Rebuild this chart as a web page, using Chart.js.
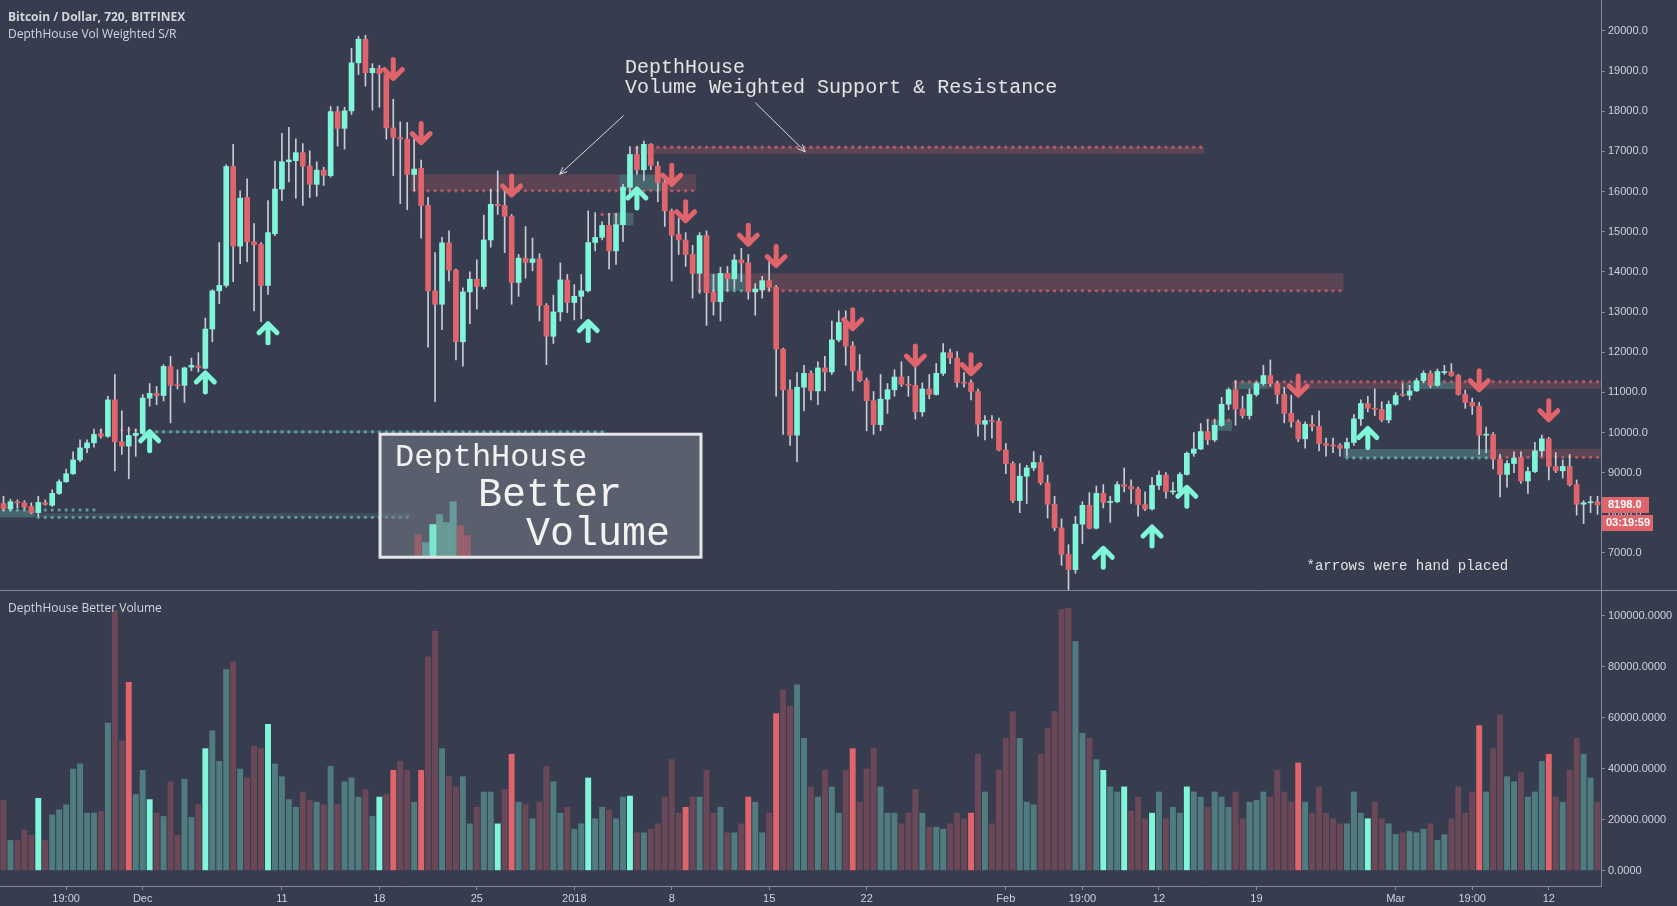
<!DOCTYPE html>
<html lang="en">
<head>
    <meta charset="UTF-8">
    <title>Bitcoin / Dollar, 720, BITFINEX</title>
    <script src="https://cdn.jsdelivr.net/npm/chart.js"></script>
    <style>
        html, body { margin: 0; padding: 0; background: #373d4f; overflow: hidden; }
        #wrap { position: relative; width: 1677px; height: 906px; }
        canvas { position: absolute; left: 0; }
        #priceChart { top: 0; }
        #volChart { top: 590px; }
        .legend {
            position: absolute; left: 8px;
            color: #d4d6dc; font-family: 'Open Sans', sans-serif;
            font-size: 12px; line-height: 17px; white-space: nowrap;
        }
    </style>
</head>
<body>
<div id="wrap">
    <canvas id="priceChart" width="1677" height="590"></canvas>
    <canvas id="volChart" width="1677" height="316"></canvas>
    <div class="legend" style="top:8px"><b>Bitcoin / Dollar, 720, BITFINEX</b><br>DepthHouse Vol Weighted S/R</div>
    <div class="legend" style="top:599px">DepthHouse Better Volume</div>
</div>

<script>
// 12h candles, Bitfinex BTC/USD, starting 21 Nov 2017
const opens = [
    8231, 8095, 8276, 8249, 8159, 8004, 8249, 8186, 8484, 8774,
    8973, 9317, 9616, 9743, 9970, 9906, 10811, 9770, 9662, 9924,
    9979, 10857, 10974, 10920, 11645, 11192, 11174, 11627, 11654, 11599,
    12577, 13528, 13664, 16625, 14642, 15855, 14750, 14687, 13664, 14950,
    16063, 16743, 16770, 16969, 16634, 16181, 16534, 16398, 17992, 17576,
    18010, 19206, 19794, 18961, 19070, 18916, 17585, 17349, 17304, 16426,
    16580, 15656, 13528, 13193, 14723, 14044, 12260, 13501, 13818, 13637,
    14796, 15683, 15656, 15384, 13736, 14343, 14234, 14325, 13166, 12396,
    13003, 13800, 13238, 13392, 13528, 14732, 14859, 15158, 14524, 15176,
    16109, 16924, 16543, 17177, 16634, 16226, 15520, 14932, 14796, 14434,
    13963, 14905, 13501, 13256, 13963, 13827, 14298, 14225, 13501, 13555,
    13782, 13619, 12079, 11065, 9933, 11128, 11473, 11037, 11608, 11509,
    12306, 12740, 12152, 11536, 11291, 10793, 10196, 10830, 11065, 11382,
    11201, 11174, 10513, 11083, 10947, 11473, 11988, 11853, 11246, 11246,
    11020, 10205, 10296, 10278, 9562, 9227, 8303, 8910, 9118, 9254,
    8747, 8213, 7624, 6963, 6583, 7715, 8186, 7615, 8484, 8258,
    8276, 8702, 8656, 8593, 8204, 8095, 8684, 8937, 8520, 8530,
    8955, 9481, 9589, 10024, 9816, 10178, 10703, 11065, 10585, 10422,
    10947, 11219, 11418, 11219, 10947, 10476, 10268, 9843, 10205, 10150,
    9725, 9680, 9680, 9607, 9752, 10341, 10721, 10603, 10576, 10313,
    10703, 10947, 10929, 11037, 11291, 11473, 11174, 11491, 11509, 11418,
    10947, 10748, 10657, 9933, 9951, 9336, 8955, 9227, 9381, 8792,
    9028, 9544, 9843, 9155, 9046, 9155, 8702, 8213, 8249, 8276
];
const highs = [
    8412, 8340, 8321, 8303, 8249, 8412, 8321, 8575, 8819, 9091,
    9517, 9816, 9816, 10087, 10087, 10902, 11445, 10540, 10132, 10087,
    10947, 11219, 11147, 11690, 11898, 11563, 11627, 11853, 11988, 12849,
    13555, 14732, 16670, 17177, 16018, 16317, 15203, 14732, 15774, 16761,
    17449, 17603, 17313, 17195, 17014, 16743, 16607, 18119, 18119, 18101,
    19568, 19866, 19894, 19187, 19142, 19006, 18300, 17739, 17721, 17331,
    16788, 15855, 14479, 14859, 15022, 14071, 13601, 13999, 14298, 15412,
    16063, 16516, 16018, 15430, 14434, 15131, 14841, 14452, 13211, 13419,
    14225, 13936, 13682, 13936, 15520, 15475, 15249, 15457, 15457, 16181,
    17123, 17123, 17259, 17195, 16743, 16335, 15566, 15339, 14977, 14660,
    14977, 15022, 13936, 14117, 14135, 14434, 14587, 14434, 13709, 13890,
    14388, 13664, 12100, 11310, 11491, 11672, 11536, 11763, 11898, 12777,
    13030, 13030, 12260, 11943, 11355, 11020, 11445, 11219, 11563, 11763,
    11400, 11717, 11237, 11445, 11717, 12215, 12079, 12016, 11491, 11310,
    11083, 10422, 10422, 10359, 9725, 9272, 9227, 9182, 9526, 9426,
    8937, 8412, 7850, 7207, 7914, 8276, 8502, 8665, 8702, 8412,
    8774, 9118, 8819, 8638, 8520, 8883, 9046, 9001, 8756, 9001,
    9517, 9997, 10223, 10313, 10313, 10875, 11110, 11291, 10902, 11083,
    11264, 11672, 11808, 11264, 11128, 10929, 10313, 10268, 10422, 10540,
    9861, 9861, 9725, 9861, 10449, 10811, 10902, 11083, 10766, 10784,
    10992, 11219, 11174, 11355, 11536, 11536, 11581, 11672, 11717, 11445,
    11056, 10857, 10748, 10132, 9997, 9453, 9299, 9517, 9517, 9136,
    9752, 9933, 9879, 9499, 9317, 9453, 8819, 8303, 8412, 8412
];
const lows = [
    8050, 8050, 8122, 8095, 7977, 7914, 8186, 8159, 8457, 8756,
    8955, 9272, 9499, 9634, 9861, 9879, 9046, 9453, 8847, 9408,
    9951, 10657, 10694, 10784, 10241, 11083, 10748, 11536, 11509, 11581,
    12260, 13211, 13619, 13754, 14207, 14252, 13030, 12758, 13437, 14900,
    15774, 16244, 15837, 15656, 15855, 15882, 16154, 16362, 17132, 17060,
    17920, 18916, 18626, 18028, 18101, 17304, 16400, 15701, 15547, 16018,
    14841, 12125, 10766, 12559, 13773, 11808, 11654, 12713, 13075, 13573,
    14615, 15430, 14479, 13193, 13392, 13845, 14026, 12777, 11690, 12215,
    12777, 12985, 12804, 12831, 13500, 14524, 14796, 14071, 14189, 14750,
    15882, 16426, 16272, 16543, 15747, 15131, 13773, 14434, 14135, 13347,
    13465, 12668, 12921, 12777, 13528, 13573, 13754, 13320, 12921, 13347,
    13528, 10902, 9951, 9680, 9272, 10540, 10811, 10694, 11037, 11445,
    12260, 11672, 11037, 11264, 10042, 9951, 10042, 10476, 10902, 11147,
    10902, 10332, 10404, 10838, 10929, 11418, 11717, 11128, 11128, 10811,
    9906, 9816, 9861, 9544, 8973, 8249, 8004, 8231, 9046, 8702,
    7869, 7552, 6691, 6075, 6492, 7235, 7597, 7597, 8122, 7760,
    8249, 8520, 8231, 7914, 8050, 8068, 8575, 8366, 8457, 8502,
    8937, 9408, 9571, 9698, 9770, 10150, 10567, 10178, 10359, 10332,
    10902, 11174, 11147, 10721, 10241, 10132, 9770, 9607, 10042, 9544,
    9408, 9499, 9408, 9408, 9680, 10178, 10513, 10422, 10268, 10241,
    10676, 10902, 10811, 11020, 11237, 11110, 11147, 11445, 11400, 10929,
    10603, 10449, 9453, 9499, 9091, 8394, 8638, 9001, 8729, 8484,
    9001, 9408, 8819, 9001, 8864, 8665, 7941, 7733, 8004, 7959
];
const closes = [
    8095, 8276, 8249, 8140, 8004, 8258, 8213, 8484, 8774, 8973,
    9317, 9616, 9743, 9951, 9906, 10811, 9770, 9662, 9924, 9979,
    10857, 10974, 10920, 11645, 11174, 11165, 11608, 11672, 11618, 12577,
    13528, 13664, 16625, 14642, 15837, 14750, 14678, 13664, 14977, 16063,
    16743, 16788, 16969, 16634, 16181, 16534, 16407, 17992, 17576, 18010,
    19206, 19794, 18961, 19070, 18943, 17585, 17349, 17313, 16426, 16561,
    15656, 13528, 13193, 14723, 14044, 12260, 13501, 13818, 13637, 14796,
    15683, 15647, 15384, 13736, 14343, 14234, 14325, 13166, 12396, 13003,
    13800, 13238, 13392, 13528, 14732, 14859, 15158, 14524, 15176, 16109,
    16924, 16543, 17177, 16652, 16226, 15520, 14914, 14796, 14434, 13963,
    14905, 13483, 13256, 13963, 13827, 14298, 14225, 13501, 13573, 13782,
    13619, 12079, 11065, 9933, 11128, 11473, 11037, 11608, 11509, 12306,
    12740, 12152, 11536, 11291, 10793, 10196, 10830, 11065, 11382, 11201,
    11174, 10513, 11083, 10947, 11473, 11988, 11853, 11246, 11228, 11020,
    10205, 10296, 10278, 9562, 9227, 8303, 8910, 9118, 9254, 8747,
    8213, 7624, 6963, 6583, 7715, 8186, 7615, 8484, 8258, 8276,
    8702, 8656, 8593, 8204, 8095, 8684, 8937, 8530, 8539, 8955,
    9481, 9589, 10024, 9816, 10178, 10703, 11065, 10585, 10422, 10947,
    11219, 11418, 11219, 10947, 10476, 10268, 9843, 10205, 10150, 9725,
    9680, 9662, 9607, 9752, 10341, 10721, 10603, 10576, 10313, 10703,
    10920, 10929, 11037, 11291, 11473, 11174, 11518, 11509, 11418, 10947,
    10748, 10657, 9933, 9951, 9336, 8955, 9227, 9363, 8792, 9028,
    9544, 9843, 9155, 9046, 9155, 8702, 8213, 8249, 8276, 8198
];
const volumes = [
    27700, 12000, 12000, 16000, 14000, 28500, 12000, 22000, 24000, 26000,
    40000, 42000, 22700, 22700, 23500, 58000, 102000, 51000, 74000, 30000,
    39500, 28000, 22700, 21400, 35000, 14000, 36000, 21000, 26000, 48000,
    55000, 43000, 79000, 82000, 40000, 36500, 49000, 48000, 57500, 42000,
    37000, 28000, 25000, 31000, 27700, 27000, 26000, 41000, 26000, 35000,
    36500, 29000, 32000, 21400, 29000, 30000, 39500, 43000, 39500, 27000,
    39500, 84000, 94000, 48000, 37000, 33000, 37000, 18500, 25000, 31000,
    31000, 18500, 32000, 45800, 27000, 26000, 20500, 27000, 41000, 35000,
    22700, 25000, 16400, 18500, 36500, 20500, 25000, 24000, 20500, 29000,
    29400, 15000, 15000, 16400, 18500, 29000, 43700, 22700, 25000, 29000,
    29000, 39500, 22700, 25000, 15000, 15000, 18500, 29000, 27000, 15000,
    22700, 61700, 71000, 64700, 73000, 52000, 33000, 29000, 39500, 33000,
    22700, 39500, 48000, 27000, 40000, 48000, 33000, 22700, 22700, 18500,
    22700, 32000, 22700, 17200, 17200, 16400, 18500, 22700, 20500, 22700,
    45800, 31000, 18500, 39500, 52000, 62500, 52000, 27000, 26000, 45800,
    56000, 62500, 102500, 103000, 90000, 54000, 52000, 43700, 39500, 33000,
    31000, 33000, 23500, 29000, 20500, 22700, 31000, 20500, 25000, 22700,
    33000, 31000, 29000, 25000, 31000, 29000, 25000, 31000, 20500, 27000,
    27700, 31000, 29000, 39500, 31000, 27000, 42400, 27000, 22700, 33000,
    22700, 20500, 18500, 18500, 31000, 22700, 20500, 27000, 20500, 18500,
    14300, 15000, 15500, 15000, 16400, 18500, 12000, 14300, 20500, 33000,
    22700, 31000, 57000, 31000, 48000, 61300, 37000, 35000, 38600, 29000,
    31000, 43000, 45800, 29000, 27000, 39500, 52000, 45800, 36500, 27000
];
// candles where the Better Volume study flags the bar
const volFlagUp = [5, 21, 29, 38, 54, 71, 84, 90, 158, 161, 165, 170, 196];
const volFlagDown = [18, 56, 60, 73, 98, 107, 111, 122, 139, 186, 212, 222];

const priceTicks = [7000, 8000, 9000, 10000, 11000, 12000, 13000, 14000, 15000, 16000, 17000, 18000, 19000, 20000];
const volumeTicks = [0, 20000, 40000, 60000, 80000, 100000];
const xTickIndex = [9, 20, 40, 54, 68, 82, 96, 110, 124, 144, 155, 166, 180, 200, 211, 222];
const xTickText = ['19:00', 'Dec', '11', '18', '25', '2018', '8', '15', '22', 'Feb', '19:00', '12', '19', 'Mar', '19:00', '12'];

// volume weighted S/R zones: [from, to, top, bottom, kind]
const levelBands = [
    [59, 88, 16426, 16018, 'res'], [89, 94, 16426, 16018, 'sup'], [95, 99, 16426, 16018, 'res'],
    [88, 90, 15475, 15158, 'sup'],
    [91, 172, 17105, 16942, 'res'],
    [100, 101, 13963, 13528, 'res'], [102, 106, 13963, 13528, 'sup'], [107, 192, 13963, 13528, 'res'],
    [174, 176, 10314, 10042, 'sup'],
    [177, 177, 11264, 11083, 'res'], [178, 181, 11264, 11083, 'sup'], [182, 201, 11264, 11083, 'res'],
    [202, 208, 11264, 11083, 'sup'], [209, 229, 11264, 11083, 'res'],
    [193, 213, 9589, 9363, 'sup'], [214, 229, 9589, 9381, 'res'],
    [0, 4, 8068, 7887, 'sup'], [5, 58, 7990, 7887, 'faint'],
    [21, 86, 10060, 9990, 'faint']
];
// dotted level lines: [from, to, price, kind]
const levelDots = [
    [59, 99, 16018, 'res'], [86, 89, 15430, 'res'], [91, 172, 17105, 'res'],
    [100, 106, 13528, 'sup'], [107, 192, 13528, 'res'], [173, 176, 10314, 'res'],
    [177, 229, 11264, 'res'], [193, 214, 9363, 'sup'], [215, 229, 9381, 'res'],
    [14, 20, 10060, 'res'], [21, 86, 10015, 'sup'], [0, 13, 8068, 'sup'], [5, 58, 7887, 'sup']
];
// hand placed arrows: [candle, price]
const upArrows = [[21, 9770], [29, 11235], [38, 12461], [84, 12514], [91, 15817], [158, 6866], [165, 7399], [170, 8385], [196, 9850]];
const downArrows = [[56, 19068], [60, 17469], [73, 16164], [96, 16430], [98, 15524], [107, 14938], [111, 14406],
    [122, 12834], [131, 11928], [139, 11715], [186, 11182], [212, 11315], [222, 10569]];

const UP = '#7ff5d9', DOWN = '#e0646c', WICK = '#c9ccd4', AXIS = '#868a96', TEXT = '#cfd2d8';
const MONO = "'Liberation Mono', monospace";

const startTime = Date.UTC(2017, 10, 21, 0, 0);
const categories = opens.map((o, i) => new Date(startTime + i * 43200000).toISOString().slice(0, 16));

function drawArrow(ctx, x, y, up, color) {
    const s = up ? -1 : 1;
    ctx.save();
    ctx.strokeStyle = color;
    ctx.lineWidth = 5;
    ctx.lineCap = 'round';
    ctx.lineJoin = 'round';
    ctx.beginPath();
    ctx.moveTo(x, y - 9 * s);
    ctx.lineTo(x, y + 9 * s);
    ctx.moveTo(x - 9, y + s);
    ctx.lineTo(x, y + 10 * s);
    ctx.lineTo(x + 9, y + s);
    ctx.stroke();
    ctx.restore();
}

function drawCallout(ctx, x1, y1, x2, y2) {
    const a = Math.atan2(y2 - y1, x2 - x1);
    ctx.beginPath();
    ctx.moveTo(x1, y1);
    ctx.lineTo(x2, y2);
    ctx.moveTo(x2 - 8 * Math.cos(a - 0.4), y2 - 8 * Math.sin(a - 0.4));
    ctx.lineTo(x2, y2);
    ctx.lineTo(x2 - 8 * Math.cos(a + 0.4), y2 - 8 * Math.sin(a + 0.4));
    ctx.stroke();
}

// keep the plot flush with the canvas edges (no label padding)
function fitRight(s) {
    s.width = 76;
    s.paddingTop = 0;
    s.paddingBottom = 0;
}

const priceOverlay = {
    id: 'priceOverlay',
    beforeDatasetsDraw(chart) {
        const ctx = chart.ctx, xs = chart.scales.x, ys = chart.scales.y;
        const step = xs.getPixelForValue(1) - xs.getPixelForValue(0);
        const fills = { res: 'rgba(224,100,108,0.22)', sup: 'rgba(128,246,220,0.22)', faint: 'rgba(128,246,220,0.10)' };
        const dots = { res: 'rgba(224,100,108,0.7)', sup: 'rgba(128,246,220,0.5)' };
        ctx.save();
        levelBands.forEach(([a, b, top, bottom, kind]) => {
            const x0 = xs.getPixelForValue(a) - step / 2, x1 = xs.getPixelForValue(b) + step / 2;
            const y0 = ys.getPixelForValue(top), y1 = ys.getPixelForValue(bottom);
            ctx.fillStyle = fills[kind];
            ctx.fillRect(x0, y0, x1 - x0, y1 - y0);
        });
        levelDots.forEach(([a, b, price, kind]) => {
            ctx.fillStyle = dots[kind];
            const y = ys.getPixelForValue(price);
            for (let i = a; i <= b; i++) {
                ctx.beginPath();
                ctx.arc(xs.getPixelForValue(i), y, 1.7, 0, Math.PI * 2);
                ctx.fill();
            }
        });
        ctx.restore();
    },
    afterDatasetsDraw(chart) {
        const ctx = chart.ctx, xs = chart.scales.x, ys = chart.scales.y;
        const X = v => xs.getPixelForValue(v), Y = v => ys.getPixelForValue(v);

        upArrows.forEach(([i, p]) => drawArrow(ctx, X(i), Y(p), true, UP));
        downArrows.forEach(([i, p]) => drawArrow(ctx, X(i), Y(p), false, DOWN));

        // annotation text + callouts
        ctx.save();
        ctx.fillStyle = '#e4e4e4';
        ctx.strokeStyle = '#d8d8d8';
        ctx.lineWidth = 1;
        ctx.font = '20px ' + MONO;
        ctx.textBaseline = 'alphabetic';
        const tx = X(89.3), ty = Y(18962);
        ctx.fillText('DepthHouse', tx, ty);
        ctx.fillText('Volume Weighted Support & Resistance', tx, ty + 20);
        drawCallout(ctx, X(89.1), Y(17895), X(79.9), Y(16430));
        drawCallout(ctx, X(108), Y(18215), X(115.2), Y(16990));
        ctx.font = '14px ' + MONO;
        ctx.fillText('*arrows were hand placed', X(187.2), Y(6579));

        // "Better Volume" logo box
        const bx = X(54.1), by = Y(9957), bw = X(100.2) - bx, bh = Y(6893) - by;
        ctx.fillStyle = 'rgba(120,123,134,0.55)';
        ctx.fillRect(bx, by, bw, bh);
        const logo = [[34.5, 23, 'r'], [42, 15, 't'], [49.3, 33, 'a'], [56, 43, 't'], [63, 35, 't'], [69.6, 56, 't'], [77, 32, 'r'], [83.6, 22, 'r']];
        const logoCol = { r: 'rgba(224,100,108,0.45)', t: 'rgba(128,246,220,0.38)', a: 'rgba(128,246,220,0.9)' };
        logo.forEach(([ox, h, c]) => {
            ctx.fillStyle = logoCol[c];
            ctx.fillRect(bx + ox, by + bh - h, 7, h);
        });
        ctx.strokeStyle = '#e6e6e8';
        ctx.lineWidth = 3;
        ctx.strokeRect(bx, by, bw, bh);
        ctx.fillStyle = '#f2f2f2';
        ctx.font = '32px ' + MONO;
        ctx.fillText('DepthHouse', bx + 15, by + 32);
        ctx.font = '40px ' + MONO;
        ctx.fillText('Better', bx + 98, by + 72);
        ctx.fillText('Volume', bx + 146, by + 111);
        ctx.restore();
    },
    afterDraw(chart) {
        const ctx = chart.ctx, ys = chart.scales.y;
        const last = closes[closes.length - 1];
        const y = Math.round(ys.getPixelForValue(last));
        const left = chart.chartArea.right + 1;
        ctx.save();
        ctx.fillStyle = DOWN;
        ctx.fillRect(left, y - 8, 47, 16);
        ctx.fillRect(left, y + 10, 51, 16);
        ctx.fillStyle = '#ffffff';
        ctx.font = 'bold 11px "Liberation Sans", sans-serif';
        ctx.textBaseline = 'middle';
        ctx.fillText(last.toFixed(1), left + 6, y);
        ctx.fillText('03:19:59', left + 4, y + 18);
        ctx.restore();
    }
};

const volOverlay = {
    id: 'volOverlay',
    afterDraw(chart) {
        const ctx = chart.ctx;
        ctx.save();
        ctx.strokeStyle = AXIS;
        ctx.lineWidth = 1;
        ctx.beginPath();
        ctx.moveTo(0, 0.5);
        ctx.lineTo(chart.width, 0.5);
        ctx.stroke();
        ctx.restore();
    }
};

const tickFont = { family: "'Liberation Sans', sans-serif", size: 11 };

new Chart(document.getElementById('priceChart'), {
    type: 'bar',
    data: {
        labels: categories,
        datasets: [{
            label: 'Body',
            data: opens.map((o, i) => [o, closes[i]]),
            backgroundColor: opens.map((o, i) => closes[i] >= o ? UP : DOWN),
            barThickness: 5,
            minBarLength: 1,
            grouped: false,
            order: 1
        }, {
            label: 'Wick',
            data: lows.map((l, i) => [l, highs[i]]),
            backgroundColor: WICK,
            barThickness: 1,
            grouped: false,
            order: 2
        }]
    },
    options: {
        responsive: false,
        animation: false,
        devicePixelRatio: 1,
        layout: { padding: 0 },
        plugins: { legend: { display: false }, tooltip: { enabled: false } },
        scales: {
            x: { display: false, offset: true },
            y: {
                position: 'right',
                min: 6077,
                max: 20772,
                afterFit: fitRight,
                afterBuildTicks: s => { s.ticks = priceTicks.map(v => ({ value: v })); },
                grid: { drawOnChartArea: false, color: AXIS, tickLength: 4 },
                border: { color: AXIS },
                ticks: { color: TEXT, font: tickFont, padding: 3, callback: v => v.toFixed(1) }
            }
        }
    },
    plugins: [priceOverlay]
});

const volColors = volumes.map((v, i) => {
    if (volFlagUp.includes(i)) return UP;
    if (volFlagDown.includes(i)) return DOWN;
    return closes[i] >= opens[i] ? 'rgba(128,246,220,0.34)' : 'rgba(224,100,108,0.30)';
});

new Chart(document.getElementById('volChart'), {
    type: 'bar',
    data: {
        labels: categories,
        datasets: [{
            label: 'Volume',
            data: volumes,
            backgroundColor: volColors,
            categoryPercentage: 0.85,
            barPercentage: 1
        }]
    },
    options: {
        responsive: false,
        animation: false,
        devicePixelRatio: 1,
        layout: { padding: 0 },
        plugins: { legend: { display: false }, tooltip: { enabled: false } },
        scales: {
            x: {
                offset: true,
                afterFit: s => { s.height = 20; s.paddingLeft = 0; s.paddingRight = 0; },
                grid: { offset: false, drawOnChartArea: false, color: AXIS, tickLength: 4 },
                border: { color: AXIS },
                ticks: {
                    autoSkip: false, maxRotation: 0, padding: 2, color: TEXT, font: tickFont,
                    callback: (v, i) => {
                        const k = xTickIndex.indexOf(i);
                        return k >= 0 ? xTickText[k] : null;
                    }
                }
            },
            y: {
                position: 'right',
                min: -6000,
                max: 110078,
                afterFit: fitRight,
                afterBuildTicks: s => { s.ticks = volumeTicks.map(v => ({ value: v })); },
                grid: { drawOnChartArea: false, color: AXIS, tickLength: 4 },
                border: { color: AXIS },
                ticks: { color: TEXT, font: tickFont, padding: 3, callback: v => v.toFixed(4) }
            }
        }
    },
    plugins: [volOverlay]
});
</script>
</body>
</html>
